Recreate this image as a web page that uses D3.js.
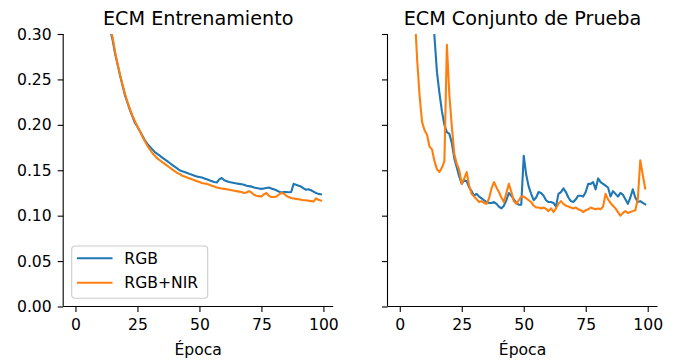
<!DOCTYPE html>
<html>
<head>
<meta charset="utf-8">
<script src="https://cdn.jsdelivr.net/npm/d3@7"></script>
<style>
  html, body { margin: 0; padding: 0; background: #ffffff; }
  svg { display: block; font-family: "DejaVu Sans", sans-serif; }
</style>
</head>
<body>
<svg id="chart" width="675" height="362"></svg>
<script>
// Mean squared error per epoch (epochs 0..99)
const epochs = d3.range(0, 100);

const trainRGB = [
  1.20, 0.95, 0.80, 0.70, 0.62, 0.56, 0.51, 0.47, 0.435, 0.405,
  0.38, 0.358, 0.338, 0.32, 0.305, 0.293, 0.278, 0.266, 0.254, 0.243,
  0.232, 0.224, 0.216, 0.209, 0.202, 0.198, 0.193, 0.188, 0.183, 0.179,
  0.176, 0.173, 0.170, 0.168, 0.166, 0.164, 0.162, 0.160, 0.158, 0.156,
  0.154, 0.152, 0.150, 0.149, 0.148, 0.147, 0.146, 0.145, 0.144, 0.143,
  0.1425, 0.142, 0.141, 0.140, 0.139, 0.138, 0.137, 0.1365, 0.140, 0.1415,
  0.139, 0.138, 0.137, 0.1365, 0.136, 0.1355, 0.135, 0.1345, 0.134, 0.133,
  0.1325, 0.132, 0.131, 0.1305, 0.130, 0.1295, 0.130, 0.1305, 0.131, 0.130,
  0.129, 0.128, 0.1265, 0.1255, 0.126, 0.126, 0.1258, 0.126, 0.135, 0.134,
  0.133, 0.132, 0.130, 0.1285, 0.129, 0.128, 0.1265, 0.125, 0.124, 0.1235
];

const trainNIR = [
  1.25, 0.97, 0.81, 0.71, 0.63, 0.565, 0.515, 0.475, 0.44, 0.41,
  0.385, 0.362, 0.341, 0.323, 0.308, 0.296, 0.280, 0.267, 0.255, 0.244,
  0.234, 0.225, 0.217, 0.210, 0.204, 0.198, 0.193, 0.187, 0.182, 0.177,
  0.173, 0.169, 0.166, 0.163, 0.161, 0.159, 0.157, 0.155, 0.153, 0.151,
  0.149, 0.147, 0.146, 0.144, 0.143, 0.142, 0.141, 0.140, 0.139, 0.138,
  0.137, 0.136, 0.1355, 0.135, 0.134, 0.133, 0.132, 0.131, 0.1305, 0.130,
  0.1295, 0.129, 0.1285, 0.128, 0.1275, 0.127, 0.1265, 0.126, 0.125, 0.1255,
  0.127, 0.1255, 0.123, 0.122, 0.1215, 0.121, 0.1235, 0.125, 0.122, 0.1205,
  0.1205, 0.121, 0.123, 0.125, 0.1245, 0.122, 0.1205, 0.1195, 0.119, 0.1185,
  0.118, 0.1175, 0.117, 0.117, 0.1165, 0.116, 0.1155, 0.119, 0.1175, 0.1165
];

const testRGB = [
  2.10, 1.40, 1.00, 0.85, 0.72, 0.62, 0.55, 0.50, 0.46, 0.43,
  0.41, 0.39, 0.37, 0.345, 0.297, 0.258, 0.235, 0.215, 0.200, 0.192,
  0.190, 0.180, 0.163, 0.153, 0.143, 0.135, 0.139, 0.138, 0.131, 0.127,
  0.122, 0.124, 0.121, 0.119, 0.117, 0.115, 0.114, 0.114, 0.115, 0.113,
  0.110, 0.108, 0.111, 0.117, 0.125, 0.122, 0.118, 0.114, 0.112, 0.112,
  0.166, 0.145, 0.132, 0.124, 0.117, 0.120, 0.126, 0.125, 0.122, 0.117,
  0.115, 0.115, 0.114, 0.110, 0.124, 0.126, 0.130, 0.126, 0.120, 0.116,
  0.115, 0.118, 0.122, 0.122, 0.121, 0.126, 0.135, 0.135, 0.137, 0.129,
  0.141, 0.137, 0.135, 0.133, 0.131, 0.121, 0.127, 0.124, 0.121, 0.125,
  0.123, 0.118, 0.113, 0.120, 0.129, 0.120, 0.115, 0.116, 0.114, 0.1125
];

const testNIR = [
  1.80, 1.10, 0.80, 0.60, 0.48, 0.40, 0.325, 0.272, 0.232, 0.203,
  0.194, 0.189, 0.176, 0.173, 0.160, 0.151, 0.148, 0.153, 0.160, 0.288,
  0.233, 0.198, 0.168, 0.157, 0.150, 0.135, 0.141, 0.148, 0.133, 0.124,
  0.121, 0.118, 0.115, 0.116, 0.114, 0.113, 0.119, 0.130, 0.137, 0.131,
  0.126, 0.120, 0.115, 0.125, 0.135, 0.126, 0.116, 0.113, 0.117, 0.121,
  0.121, 0.119, 0.117, 0.115, 0.111, 0.109, 0.109, 0.108, 0.109, 0.1075,
  0.105, 0.108, 0.104, 0.108, 0.113, 0.116, 0.113, 0.111, 0.110, 0.109,
  0.108, 0.109, 0.107, 0.106, 0.104, 0.106, 0.107, 0.109, 0.108, 0.107,
  0.108, 0.107, 0.110, 0.124, 0.118, 0.114, 0.111, 0.108, 0.104, 0.100,
  0.103, 0.105, 0.103, 0.104, 0.105, 0.106, 0.118, 0.161, 0.145, 0.130
];

const seriesNames = ["RGB", "RGB+NIR"];
const seriesColors = ["#1f77b4", "#ff7f0e"];
const panelTitles = ["ECM Entrenamiento", "ECM Conjunto de Prueba"];
const xTicks = [0, 25, 50, 75, 100];
const yTicks = [0.00, 0.05, 0.10, 0.15, 0.20, 0.25, 0.30];
const xLabel = "Época";

const panels = [
  { title: panelTitles[0], series: [trainRGB, trainNIR], left: 63.2, right: 333.2, yLabels: true, legend: true },
  { title: panelTitles[1], series: [testRGB, testNIR], left: 387.5, right: 657.5, yLabels: false, legend: false }
];

const plotTop = 34, plotBottom = 306.5;
const tickFont = 15.6, titleFont = 19.2;

const svg = d3.select("#chart");
const y = d3.scaleLinear().domain([0, 0.30]).range([plotBottom, plotTop]);

panels.forEach((p, pi) => {
  const x = d3.scaleLinear().domain([-4.95, 103.95]).range([p.left, p.right]);
  const g = svg.append("g");

  const clipId = "clip" + pi;
  svg.append("defs").append("clipPath").attr("id", clipId)
    .append("rect")
    .attr("x", p.left).attr("y", plotTop)
    .attr("width", p.right - p.left).attr("height", plotBottom - plotTop);

  // loss curves
  const line = d3.line()
    .x((d, i) => x(epochs[i]))
    .y(d => y(d));
  const lines = g.append("g").attr("clip-path", `url(#${clipId})`);
  p.series.forEach((s, si) => {
    lines.append("path")
      .datum(s)
      .attr("d", line)
      .attr("fill", "none")
      .attr("stroke", seriesColors[si])
      .attr("stroke-width", 2.1)
      .attr("stroke-linejoin", "round")
      .attr("stroke-linecap", "square");
  });

  // x axis
  const xAxis = d3.axisBottom(x).tickValues(xTicks).tickFormat(d3.format("d"))
    .tickSize(5.5).tickPadding(7).tickSizeOuter(0);
  const gx = g.append("g").attr("transform", `translate(0,${plotBottom})`).call(xAxis);
  gx.select(".domain").attr("d", `M${p.left},0H${p.right}`).attr("stroke-width", 1.1);
  gx.selectAll(".tick line").attr("stroke-width", 1.1);
  gx.selectAll("text").attr("font-size", tickFont).attr("font-family", "DejaVu Sans").attr("fill", "#000");

  // y axis
  const yAxis = d3.axisLeft(y).tickValues(yTicks)
    .tickFormat(p.yLabels ? d3.format(".2f") : () => "")
    .tickSize(5.5).tickPadding(6).tickSizeOuter(0);
  const gy = g.append("g").attr("transform", `translate(${p.left},0)`).call(yAxis);
  gy.select(".domain").attr("d", `M0,${plotTop}V${plotBottom}`).attr("stroke-width", 1.1);
  gy.selectAll(".tick line").attr("stroke-width", 1.1);
  gy.selectAll("text").attr("font-size", tickFont).attr("font-family", "DejaVu Sans").attr("fill", "#000");

  // title
  g.append("text")
    .attr("x", (p.left + p.right) / 2).attr("y", 25)
    .attr("text-anchor", "middle")
    .attr("font-size", titleFont)
    .attr("fill", "#000")
    .text(p.title);

  // x label
  g.append("text")
    .attr("x", (p.left + p.right) / 2).attr("y", 355)
    .attr("text-anchor", "middle")
    .attr("font-size", tickFont)
    .attr("fill", "#000")
    .text(xLabel);

  // legend
  if (p.legend) {
    const lg = g.append("g");
    lg.append("rect")
      .attr("x", 71.7).attr("y", 246)
      .attr("width", 136).attr("height", 52.3)
      .attr("rx", 3.5)
      .attr("fill", "#ffffff").attr("fill-opacity", 0.8)
      .attr("stroke", "#cccccc").attr("stroke-width", 1.1);
    const rowY = [258.3, 282.7];
    seriesNames.forEach((name, si) => {
      lg.append("line")
        .attr("x1", 77).attr("x2", 112.5)
        .attr("y1", rowY[si]).attr("y2", rowY[si])
        .attr("stroke", seriesColors[si]).attr("stroke-width", 2.1);
      lg.append("text")
        .attr("x", 124.3).attr("y", rowY[si])
        .attr("dy", "0.36em")
        .attr("font-size", tickFont)
        .attr("fill", "#000")
        .text(name);
    });
  }
});
</script>
</body>
</html>
